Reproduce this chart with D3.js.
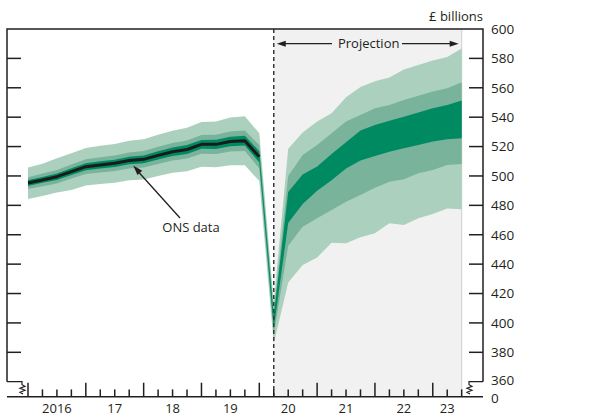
<!DOCTYPE html>
<html>
<head>
<meta charset="utf-8">
<script src="https://cdn.jsdelivr.net/npm/d3@7"></script>
<style>
  html, body { margin: 0; padding: 0; background: #fff; }
  svg text { font-family: "Open Sans", "Noto Sans", sans-serif; fill: #231f20; }
</style>
</head>
<body>
<svg id="chart" width="596" height="416"></svg>
<script>
// ---------- DATA ----------
const quarters = [
  "2016 Q1","2016 Q2","2016 Q3","2016 Q4",
  "2017 Q1","2017 Q2","2017 Q3","2017 Q4",
  "2018 Q1","2018 Q2","2018 Q3","2018 Q4",
  "2019 Q1","2019 Q2","2019 Q3","2019 Q4",
  "2020 Q1","2020 Q2","2020 Q3","2020 Q4",
  "2021 Q1","2021 Q2","2021 Q3","2021 Q4",
  "2022 Q1","2022 Q2","2022 Q3","2022 Q4",
  "2023 Q1","2023 Q2","2023 Q3"
];
// ONS data (2016 Q1 – 2020 Q1), £ billions
const onsData = [495.2,497.3,499.5,503.0,506.3,507.5,508.6,510.5,511.3,514.0,516.5,518.0,521.5,521.5,523.5,524.0,513.0];

// Fan bands (lower / upper bounds), one value per quarter
const lightLo = [484.4,486.3,488.7,490.5,493.5,494.5,495.4,497.0,497.6,500.0,502.2,503.2,506.3,505.9,507.3,507.3,496.5,386,
                 427.5,439.4,444.5,454.6,454.2,458.3,461.0,467.8,466.6,471.2,474.1,477.9,477.3];
const lightHi = [505.7,508.3,512.0,515.5,519.1,520.5,521.8,524.0,525.0,528.0,530.8,532.8,536.7,537.1,539.7,540.7,529.0,414,
                 518.5,529.5,537.0,542.6,553.5,560.5,564.5,567.0,572.5,575.5,578.5,581.0,586.7];
const medLo   = [491.2,493.0,494.9,498.2,501.3,502.3,503.3,505.0,505.7,508.2,510.5,511.8,515.1,514.9,516.7,517.0,505.0,392,
                 452.5,465.5,471.2,476.8,482.5,487.0,492.0,496.0,497.7,501.8,504.0,507.5,508.2];
const medHi   = [499.2,501.6,504.1,507.8,511.3,512.7,513.9,516.0,516.9,519.8,522.5,524.2,527.9,528.1,530.3,531.0,521.0,408,
                 500.0,514.3,521.0,529.0,537.0,541.5,546.0,548.3,551.7,554.5,557.4,559.7,563.8];
const darkLo  = [493.2,495.3,497.3,500.7,503.9,505.0,506.1,507.9,508.6,511.2,513.6,515.0,518.5,518.4,520.3,520.7,509.2,396,
                 468.0,481.0,490.0,497.0,505.0,510.5,513.5,516.5,518.8,521.0,523.5,525.0,525.6];
const darkHi  = [497.2,499.3,501.7,505.3,508.7,510.0,511.1,513.1,514.0,516.8,519.4,521.0,524.5,524.6,526.7,527.3,516.8,405,
                 489.0,501.0,506.5,515.0,523.0,531.0,534.7,537.6,540.3,543.1,546.0,548.3,551.3];

const yearLabels = ["2016","17","18","19","20","21","22","23"];
const yTicks = [360,380,400,420,440,460,480,500,520,540,560,580,600];
const projectionStart = "2020 Q2";
const projectionEnd = "2023 Q3";

// ---------- HELPERS ----------
const toYear = q => { const [yy, qq] = q.split(" Q"); return +yy + (+qq - 1) / 4; };
const qx = quarters.map(toYear);

const svg = d3.select("#chart");

const leftX = 7, rightX = 483, topY = 29, breakY = 381.7, baseY = 396.7;

const x = d3.scaleLinear().domain([2016, 2024]).range([28, 490.6]);
const y = d3.scaleLinear().domain([360, 600]).range([breakY, topY]);

const colLight = "#acd0be", colMed = "#79b39b", colDark = "#008a62";
const ink = "#231f20";

// Projection background
const px0 = x(toYear(projectionStart)), px1 = x(toYear(projectionEnd));
svg.append("rect").attr("x", px0).attr("y", topY).attr("width", px1 - px0).attr("height", baseY - topY)
  .attr("fill", "#f1f1f1");
svg.append("line").attr("x1", px1).attr("x2", px1).attr("y1", topY).attr("y2", baseY)
  .attr("stroke", "#cfcfcf").attr("stroke-width", 1);

// Fan bands
function band(lo, hi, color) {
  const data = qx.map((d, i) => ({ t: d, lo: lo[i], hi: hi[i] }));
  const area = d3.area().x(d => x(d.t)).y0(d => y(d.lo)).y1(d => y(d.hi)).curve(d3.curveLinear);
  svg.append("path").datum(data).attr("d", area).attr("fill", color);
}
band(lightLo, lightHi, colLight);
band(medLo, medHi, colMed);
band(darkLo, darkHi, colDark);

// ONS data line
const onsPts = onsData.map((v, i) => ({ t: qx[i], v }));
svg.append("path").datum(onsPts)
  .attr("d", d3.line().x(d => x(d.t)).y(d => y(d.v)))
  .attr("fill", "none").attr("stroke", "#1a1a1a").attr("stroke-width", 3).attr("stroke-linejoin", "round");

// Dashed projection-start line
svg.append("line").attr("x1", px0).attr("x2", px0).attr("y1", topY).attr("y2", baseY)
  .attr("stroke", "#3a3a3a").attr("stroke-width", 1.5).attr("stroke-dasharray", "4,3");

// Frame: top, left and right
svg.append("path")
  .attr("d", `M${leftX},${breakY} V${topY} H${rightX} V${breakY}`)
  .attr("fill", "none").attr("stroke", ink).attr("stroke-width", 1.5);

// Left ticks (no labels) and right-axis ticks
const inner = yTicks.filter(v => v > 360 && v < 600);
inner.forEach(v => {
  svg.append("line").attr("x1", leftX).attr("x2", leftX + 14).attr("y1", y(v)).attr("y2", y(v))
    .attr("stroke", ink).attr("stroke-width", 1.5);
  svg.append("line").attr("x1", rightX - 14).attr("x2", rightX).attr("y1", y(v)).attr("y2", y(v))
    .attr("stroke", ink).attr("stroke-width", 1.5);
});

// Axis breaks
svg.append("path")
  .attr("d", `M${leftX},${breakY} H${leftX + 15} V${breakY + 3} l3,1.6 l-5,2 l5,2 l-5,2 l3,1.6`)
  .attr("fill", "none").attr("stroke", ink).attr("stroke-width", 1.2);
svg.append("path")
  .attr("d", `M${rightX},${breakY} H${rightX - 14} V${breakY + 3} l3,1.6 l-5,2 l5,2 l-5,2 l3,1.6`)
  .attr("fill", "none").attr("stroke", ink).attr("stroke-width", 1.2);

// Baseline
svg.append("line").attr("x1", leftX).attr("x2", rightX).attr("y1", baseY).attr("y2", baseY)
  .attr("stroke", ink).attr("stroke-width", 1.5);

// X ticks (quarters)
qx.forEach(t => {
  const major = Math.abs(t - Math.round(t)) < 1e-6;
  svg.append("line").attr("x1", x(t)).attr("x2", x(t))
    .attr("y1", baseY).attr("y2", baseY - (major ? 14 : 7.3))
    .attr("stroke", ink).attr("stroke-width", 1.5);
});

// Year labels
yearLabels.forEach((lab, i) => {
  const y0 = 2016 + i;
  const y1 = Math.min(y0 + 1, toYear(projectionEnd));
  svg.append("text").attr("x", x((y0 + y1) / 2)).attr("y", 412.5)
    .attr("text-anchor", "middle").attr("font-size", 13).text(lab);
});

// Right axis labels
yTicks.forEach(v => {
  svg.append("text").attr("x", 491).attr("y", y(v) + (v === 360 ? 3.5 : 4.8))
    .attr("font-size", 13.5).text(v);
});
svg.append("text").attr("x", 491).attr("y", baseY + 6.5).attr("font-size", 13.5).text("0");

// Units label
svg.append("text").attr("x", rightX).attr("y", 21).attr("text-anchor", "end")
  .attr("font-size", 13).text("£ billions");

// Projection arrow
const arrY = 43.7;
svg.append("text").attr("x", (px0 + px1) / 2 + 1).attr("y", arrY + 4.6).attr("text-anchor", "middle")
  .attr("font-size", 13).text("Projection");
svg.append("line").attr("x1", px0 + 8).attr("x2", 332).attr("y1", arrY).attr("y2", arrY)
  .attr("stroke", ink).attr("stroke-width", 1.3);
svg.append("line").attr("x1", 402).attr("x2", px1 - 8).attr("y1", arrY).attr("y2", arrY)
  .attr("stroke", ink).attr("stroke-width", 1.3);
svg.append("path").attr("d", `M${px0 + 3},${arrY} l9,-3 v6 z`).attr("fill", ink);
svg.append("path").attr("d", `M${px1 - 3},${arrY} l-9,-3 v6 z`).attr("fill", ink);

// ONS data annotation
svg.append("text").attr("x", 191).attr("y", 232).attr("text-anchor", "middle")
  .attr("font-size", 13).text("ONS data");
const ax = x(toYear("2017 Q4")) + 4, ay = y(onsData[7]) + 5;
svg.append("line").attr("x1", 180).attr("y1", 218).attr("x2", ax + 4).attr("y2", ay + 5)
  .attr("stroke", ink).attr("stroke-width", 1.3);
{
  const ang = Math.atan2(218 - ay, 180 - ax);
  const L = 10, Wd = 3.2;
  const bx = ax + L * Math.cos(ang), by = ay + L * Math.sin(ang);
  const p1 = [bx + Wd * Math.sin(ang), by - Wd * Math.cos(ang)];
  const p2 = [bx - Wd * Math.sin(ang), by + Wd * Math.cos(ang)];
  svg.append("path").attr("d", `M${ax},${ay} L${p1[0]},${p1[1]} L${p2[0]},${p2[1]} Z`).attr("fill", ink);
}
</script>
</body>
</html>
